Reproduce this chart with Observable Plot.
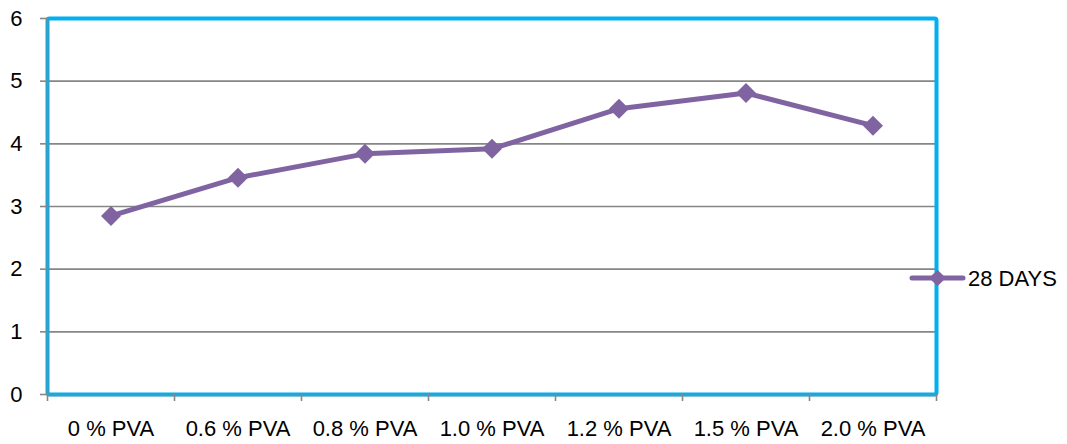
<!DOCTYPE html>
<html>
<head>
<meta charset="utf-8">
<script src="https://cdn.jsdelivr.net/npm/d3@7"></script>
<script src="https://cdn.jsdelivr.net/npm/@observablehq/plot@0.6"></script>
<style>
  html, body { margin: 0; padding: 0; background: #fff; }
  svg { display: block; }
</style>
</head>
<body>
<div id="chart"></div>
<script>
const categories = ["0 % PVA", "0.6 % PVA", "0.8 % PVA", "1.0 % PVA", "1.2 % PVA", "1.5 % PVA", "2.0 % PVA"];
const values = [2.85, 3.46, 3.84, 3.92, 4.56, 4.81, 4.29];
const seriesName = "28 DAYS";
const yTicks = [0, 1, 2, 3, 4, 5, 6];

const data = categories.map((c, i) => ({ i: i + 0.5, cat: c, v: values[i] }));
const boundaries = d3.range(categories.length + 1);
const centers = data.map(d => d.i);

const purple = "#8064A2";
const blue = "#00B0F0";
const gray = "#868686";
const font = "'Liberation Sans', Arial, sans-serif";

const plot = Plot.plot({
  width: 1067,
  height: 444,
  marginLeft: 47,
  marginRight: 131,
  marginTop: 18,
  marginBottom: 50,
  style: { fontFamily: font, fontSize: "22px", color: "#000", background: "#fff" },
  x: { type: "linear", domain: [0, categories.length] },
  y: { domain: [0, 6] },
  marks: [
    Plot.ruleY(yTicks.filter(t => t > 0), { stroke: gray, strokeWidth: 1.6 }),
    Plot.frame({ stroke: blue, strokeWidth: 4, rx: 2 }),
    Plot.ruleY([0], { stroke: gray, strokeWidth: 1.6, dy: 1 }),
    Plot.ruleX([0], { stroke: gray, strokeWidth: 1.6 }),
    Plot.axisY({ ticks: yTicks, tickSize: 7, tickPadding: 18, tickFormat: d3.format("d"), stroke: gray, strokeWidth: 1.6, strokeOpacity: 1, fill: "#000", fontSize: 22, label: null }),
    Plot.axisX({ ticks: boundaries, tickSize: 7, tickFormat: () => "", stroke: gray, strokeWidth: 1.6, strokeOpacity: 1, label: null }),
    Plot.axisX({ ticks: centers, tickSize: 0, tickPadding: 26, tickFormat: t => categories[Math.round(t - 0.5)], fill: "#000", fontSize: 22, label: null }),
    Plot.line(data, { x: "i", y: "v", stroke: purple, strokeWidth: 5, strokeLinejoin: "round" }),
    Plot.dot(data, { x: "i", y: "v", symbol: "diamond2", r: 9, fill: purple, stroke: "none" })
  ]
});

document.getElementById("chart").appendChild(plot);

// Legend
const svg = d3.select(plot);
const lg = svg.append("g").attr("text-anchor", "start");
const ly = 278;
lg.append("line").attr("x1", 912).attr("x2", 963).attr("y1", ly).attr("y2", ly)
  .attr("stroke", purple).attr("stroke-width", 5).attr("stroke-linecap", "round");
lg.append("path").attr("d", d3.symbol(d3.symbolDiamond2, Math.PI * 7.5 * 7.5)())
  .attr("transform", `translate(937.5,${ly})`).attr("fill", purple);
lg.append("text").attr("x", 968).attr("y", ly).attr("dy", "0.35em").attr("text-anchor", "start")
  .attr("font-family", font).attr("font-size", 22).attr("fill", "#000").text(seriesName);
</script>
</body>
</html>
